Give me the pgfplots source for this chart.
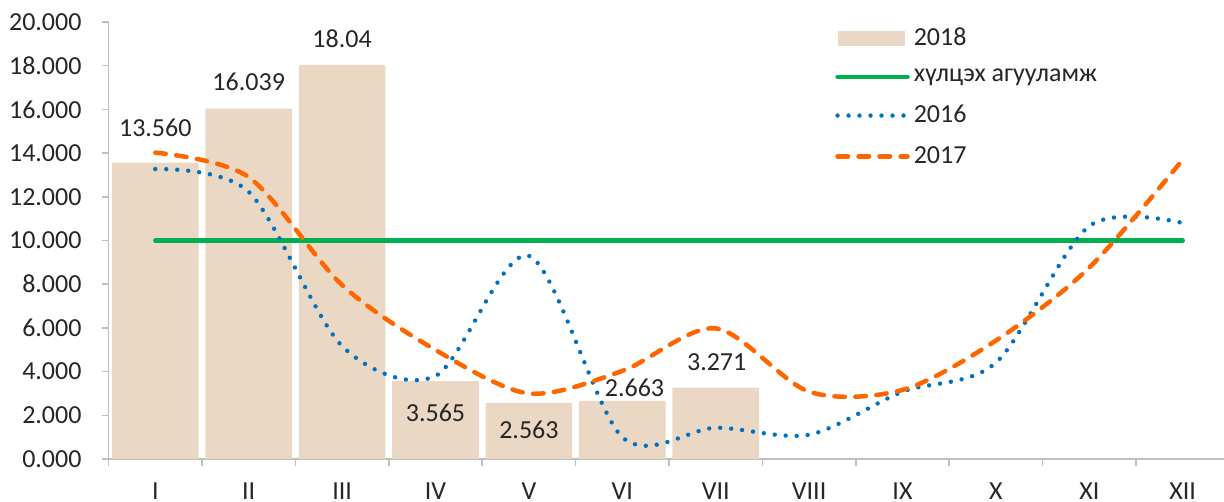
\documentclass[border=0pt]{standalone}
\usepackage{fontspec}
\setmainfont{Carlito}
\usepackage{pgfplots}
\pgfplotsset{compat=1.18}
\definecolor{barc}{HTML}{EAD7C4}
\definecolor{gline}{HTML}{00B050}
\definecolor{bline}{HTML}{0070C0}
\definecolor{oline}{HTML}{FF6600}
\definecolor{axc}{HTML}{BFBFBF}
\definecolor{txt}{HTML}{262626}
\begin{document}
\begin{tikzpicture}
\path[use as bounding box] (0,0) rectangle (612pt,251pt);
\begin{axis}[
  at={(54.3pt,21.5pt)}, anchor=south west,
  scale only axis, width=560.4pt, height=218.5pt,
  xmin=-0.5, xmax=11.5, ymin=0, ymax=20,
  axis x line*=bottom, axis y line*=left,
  axis line style={axc, line width=0.75pt, -},
  xtick={-0.5,0.5,...,11.5},
  x tick label as interval=true,
  xticklabels={I,II,III,IV,V,VI,VII,VIII,IX,X,XI,XII},
  ytick={0,2,...,20},
  tick align=outside, major tick length=3.5pt,
  tick style={axc, line width=0.75pt},
  ticklabel style={font=\fontsize{13}{15}\selectfont, text=txt},
  xticklabel style={yshift=-5pt},
  yticklabel style={xshift=-6.5pt, /pgf/number format/.cd, fixed, fixed zerofill, precision=3, assume math mode=true},
  legend style={draw=none, fill=none, font=\fontsize{13}{15}\selectfont, text=txt,
    at={(0.648,0.997)}, anchor=north west, inner sep=0pt, row sep=6.3pt},
  legend cell align=left,
  clip=false,
]
\addplot[ybar, bar width=0.928, bar shift=0pt, fill=barc, draw=none,
  nodes near coords={\pgfplotspointmeta}, point meta=explicit symbolic,
  visualization depends on={\thisrow{dy}\as\dy},
  visualization depends on={\thisrow{dx}\as\dx},
  every node near coord/.append style={anchor=center, yshift=\dy pt, xshift=\dx pt,
    font=\fontsize{13}{15}\selectfont, text=txt},
  legend image code/.code={\fill[barc] (0pt,-3.75pt) rectangle (33.5pt,3.75pt);}]
  table[x=x, y=y, meta=lab]{
x y lab dy dx
0 13.560 13.560 17.3 0
1 16.039 16.039 13.3 0
2 18.04 18.04 12.9 0
3 3.565 3.565 -15.8 0
4 2.563 2.563 -13.5 0
5 2.663 2.663 6.3 6.1
6 3.271 3.271 12.9 0.5
};
\addlegendentry{2018}
\addplot[gline, line width=2.25pt, line cap=round,
  legend image code/.code={\draw[gline, line width=2.25pt, line cap=round] (0pt,0pt) -- (35pt,0pt);}]
  coordinates {(0,10) (1,10) (2,10) (3,10) (4,10) (5,10) (6,10) (7,10) (8,10) (9,10) (10,10) (11,10)};
\addlegendentry{хүлцэх агууламж}
\addplot[bline, line width=2.2pt, smooth, line cap=round, dash pattern=on 0pt off 5.5pt,
  legend image code/.code={\draw[bline, line width=2.2pt, line cap=round, dash pattern=on 0pt off 5.5pt] (0pt,0pt) -- (35pt,0pt);}]
  coordinates {(0,13.27) (1,12.23) (2,5.17) (3,3.8) (4,9.3) (5,1.0) (6,1.43) (7,1.11) (8,3.08) (9,4.41) (10,10.66) (11,10.8)};
\addlegendentry{2016}
\addplot[oline, line width=2.25pt, smooth, line cap=round, dash pattern=on 5.25pt off 5.25pt,
  legend image code/.code={\draw[oline, line width=2.25pt, line cap=round, dash pattern=on 5.25pt off 5.25pt] (0pt,0pt) -- (35pt,0pt);}]
  coordinates {(0,14.02) (1,12.9) (2,7.96) (3,4.99) (4,3.0) (5,4.03) (6,5.98) (7,3.08) (8,3.16) (9,5.42) (10,8.76) (11,13.7)};
\addlegendentry{2017}
\end{axis}
\end{tikzpicture}
\end{document}
